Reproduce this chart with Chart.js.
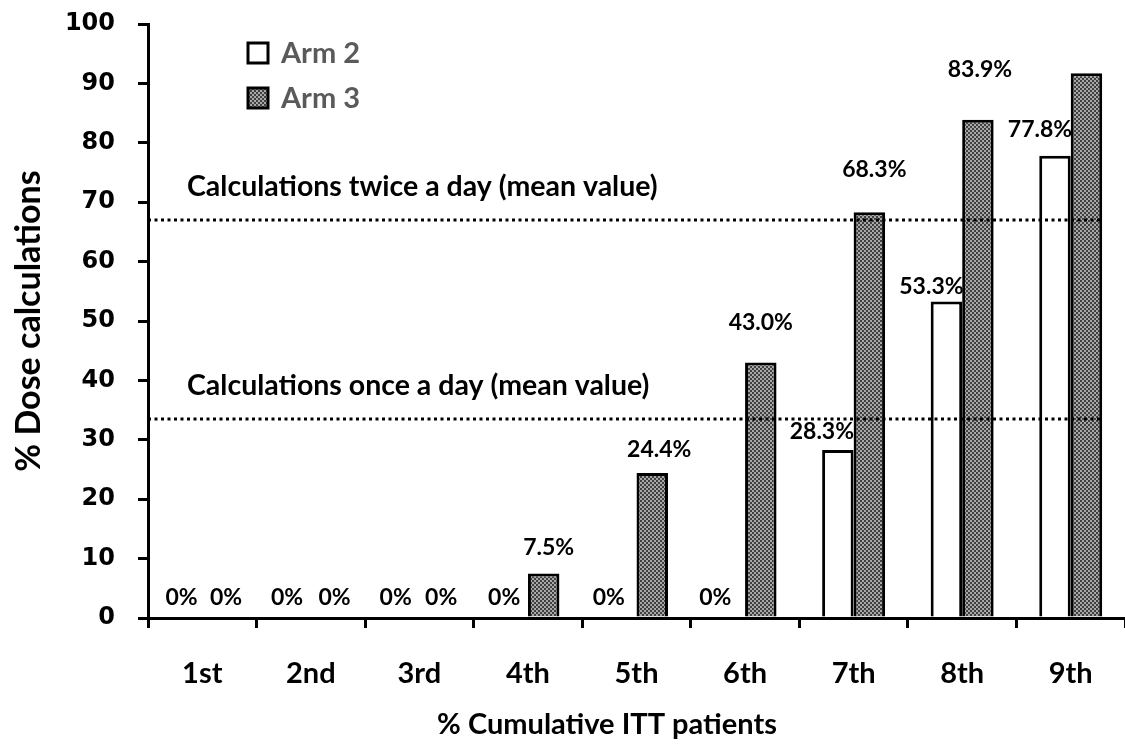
<!DOCTYPE html>
<html>
<head>
<meta charset="utf-8">
<script src="https://cdn.jsdelivr.net/npm/chart.js@4.4.0/dist/chart.umd.min.js"></script>
<style>
  html, body { margin: 0; padding: 0; background: #fff; }
  #wrap { width: 1125px; height: 745px; }
</style>
</head>
<body>
<div id="wrap"><canvas id="doseChart" width="1125" height="745"></canvas></div>
<script>
const categories = ['1st', '2nd', '3rd', '4th', '5th', '6th', '7th', '8th', '9th'];
const arm2Values = [0, 0, 0, 0, 0, 0, 28.3, 53.3, 77.8];
const arm3Values = [0, 0, 0, 7.5, 24.4, 43.0, 68.3, 83.9, 91.7];
const arm2Labels = ['0%', '0%', '0%', '0%', '0%', '0%', '28.3%', '53.3%', '77.8%'];
const arm3Labels = ['0%', '0%', '0%', '7.5%', '24.4%', '43.0%', '68.3%', '83.9%', ''];
const yTicks = [0, 10, 20, 30, 40, 50, 60, 70, 80, 90, 100];
const refLines = [
    { value: 67, text: 'Calculations twice a day (mean value)' },
    { value: 33.5, text: 'Calculations once a day (mean value)' }
];
const xTitle = '% Cumulative ITT patients';

// label nudges (px) to follow the hand placed labels of the original
const arm2Nudge = { x: [-5, -8, -8, -8, -12, -14, -16, -15, -15], y: [20, 20, 20, 20, 20, 20, 18, 15, 26] };
const arm3Nudge = { x: [8, 8, 6, 5, 7, 0, 5, 2, 0], y: [20, 20, 20, 26, 23, 40, 43, 50, 0] };

// grey checker fill for Arm 3
function makePattern() {
    const c = document.createElement('canvas');
    c.width = 4; c.height = 4;
    const p = c.getContext('2d');
    p.fillStyle = '#a8a8a8';
    p.fillRect(0, 0, 4, 4);
    p.fillStyle = '#404040';
    p.fillRect(0, 0, 2, 2);
    p.fillRect(2, 2, 2, 2);
    return p.createPattern(c, 'repeat');
}

const ctx = document.getElementById('doseChart').getContext('2d');
const greyFill = makePattern();

const extrasPlugin = {
    id: 'extras',
    afterDatasetsDraw(chart) {
        const c = chart.ctx;
        const area = chart.chartArea;
        const y = chart.scales.y;

        // dotted mean lines, drawn over the bars
        c.save();
        c.strokeStyle = '#000';
        c.lineWidth = 3;
        c.setLineDash([3, 3.5]);
        c.font = 'bold 28.5px Lato';
        c.fillStyle = '#000';
        c.textBaseline = 'middle';
        refLines.forEach(r => {
            const py = y.getPixelForValue(r.value);
            c.beginPath();
            c.moveTo(area.left, py);
            c.lineTo(area.right - 22, py);
            c.stroke();
            c.fillText(r.text, area.left + 39, py - 33);
        });
        c.restore();

        // value labels
        c.save();
        c.font = 'bold 23px Lato';
        c.fillStyle = '#000';
        c.textAlign = 'center';
        c.textBaseline = 'middle';
        const sets = [[0, arm2Labels, arm2Nudge], [1, arm3Labels, arm3Nudge]];
        sets.forEach(([i, labels, nudge]) => {
            chart.getDatasetMeta(i).data.forEach((bar, j) => {
                if (!labels[j]) return;
                c.fillText(labels[j], bar.x + nudge.x[j], bar.y - nudge.y[j]);
            });
        });
        c.restore();
    },
    afterDraw(chart) {
        const c = chart.ctx;
        c.save();
        // legend inside the plot
        c.font = 'bold 29px Lato';
        c.textBaseline = 'middle';
        chart.data.datasets.forEach((ds, i) => {
            const top = 43 + i * 45;
            c.fillStyle = ds.backgroundColor;
            c.fillRect(248, top, 20, 20);
            c.strokeStyle = '#000';
            c.lineWidth = 3;
            c.strokeRect(248, top, 20, 20);
            c.fillStyle = '#5a5a5a';
            c.fillText(ds.label, 281, top + 11);
        });
        // x axis title, sits left of the plot centre in the original
        c.font = 'bold 29px Lato';
        c.fillStyle = '#000';
        c.textAlign = 'center';
        c.fillText(xTitle, 607, 725);
        c.restore();
    }
};

const doseChart = new Chart(ctx, {
    type: 'bar',
    data: {
        labels: categories,
        datasets: [{
            label: 'Arm 2',
            data: arm2Values,
            backgroundColor: '#ffffff',
            borderColor: '#000',
            borderWidth: 3,
            categoryPercentage: 0.58,
            barPercentage: 1.0
        }, {
            label: 'Arm 3',
            data: arm3Values,
            backgroundColor: greyFill,
            borderColor: '#000',
            borderWidth: 3,
            categoryPercentage: 0.58,
            barPercentage: 1.0
        }]
    },
    options: {
        responsive: false,
        animation: false,
        layout: { padding: 0 },
        plugins: {
            legend: { display: false },
            tooltip: { enabled: false }
        },
        scales: {
            x: {
                afterFit: scale => { scale.height = 127; },
                border: { color: '#000', width: 3 },
                grid: { drawOnChartArea: false, drawTicks: true, tickLength: 10, color: '#000', lineWidth: 3 },
                ticks: { color: '#000', padding: 28, font: { family: 'Lato', weight: 'bold', size: 29 } }
            },
            y: {
                min: 0,
                max: 100,
                afterFit: scale => {
                    scale.width = 148;
                    scale.paddingTop = 24;
                    scale.paddingBottom = 0;
                },
                afterBuildTicks: scale => { scale.ticks = yTicks.map(v => ({ value: v })); },
                border: { color: '#000', width: 3 },
                grid: { drawOnChartArea: false, drawTicks: true, tickLength: 10, color: '#000', lineWidth: 3 },
                ticks: { color: '#000', padding: 23, font: { family: 'DejaVu Sans', weight: 'bold', size: 24 } },
                title: {
                    display: true,
                    text: '% Dose calculations',
                    color: '#000',
                    font: { family: 'Lato', weight: 'bold', size: 34 },
                    padding: { top: 9, bottom: 0 }
                }
            }
        }
    },
    plugins: [extrasPlugin]
});
</script>
</body>
</html>
